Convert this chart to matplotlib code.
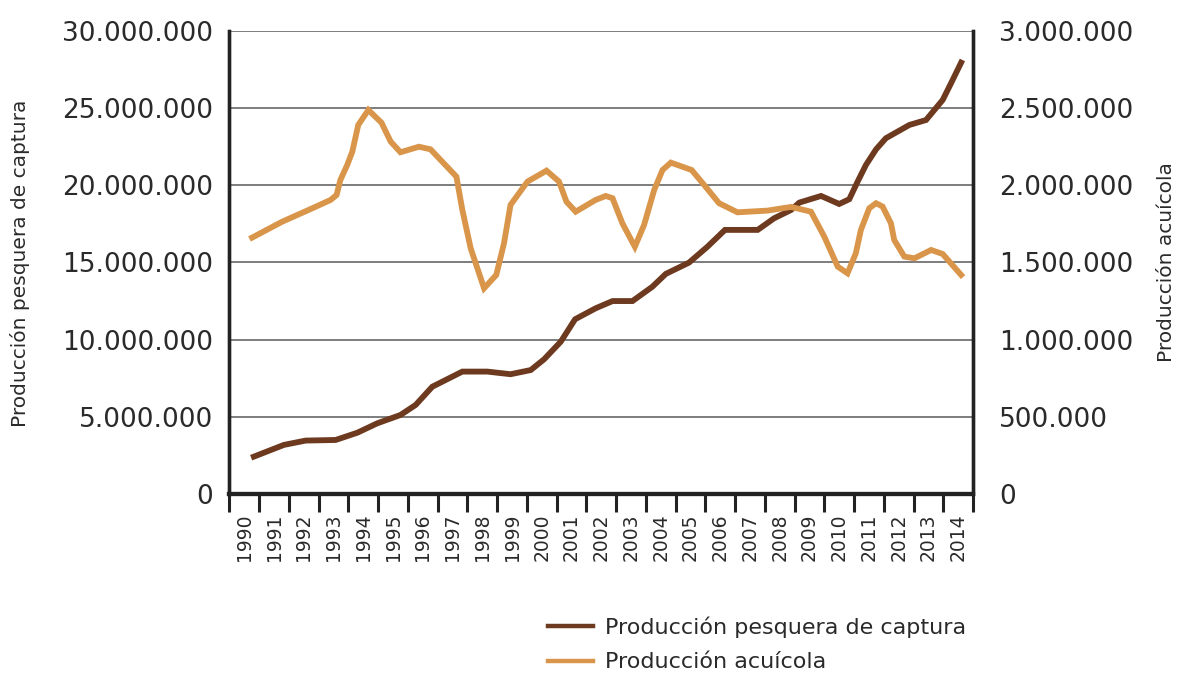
import matplotlib
matplotlib.use("Agg")
import matplotlib.pyplot as plt
from matplotlib.ticker import FuncFormatter, FixedLocator
from matplotlib.lines import Line2D

# ---- data ----
years = list(range(1990, 2015))

captura_x = [1990.32, 1991.33, 1992.06, 1993.07, 1993.80, 1994.47, 1995.25, 1995.76,
             1996.32, 1997.33, 1998.17, 1998.95, 1999.63, 2000.08, 2000.64, 2001.12,
             2001.81, 2002.38, 2003.05, 2003.72, 2004.17, 2004.95, 2005.57, 2006.16,
             2007.26, 2007.81, 2008.38, 2008.66, 2009.39, 2010.00, 2010.34, 2010.62,
             2010.90, 2011.24, 2011.57, 2012.36, 2012.92, 2013.48, 2013.76, 2014.10]
captura_y = [2.42, 3.18, 3.46, 3.50, 3.97, 4.58, 5.12, 5.77,
             6.95, 7.93, 7.93, 7.76, 8.03, 8.73, 9.87, 11.32,
             12.03, 12.50, 12.50, 13.43, 14.26, 14.99, 16.02, 17.11,
             17.11, 17.86, 18.40, 18.88, 19.31, 18.79, 19.10, 20.24,
             21.32, 22.33, 23.05, 23.91, 24.23, 25.53, 26.61, 27.95]
captura_y = [v * 1e6 for v in captura_y]

acuicola_x = [1990.26, 1991.27, 1992.11, 1992.90, 1993.10, 1993.23, 1993.46, 1993.63,
              1993.83, 1994.17, 1994.61, 1994.92, 1995.25, 1995.87, 1996.26, 1997.13,
              1997.33, 1997.61, 1998.06, 1998.47, 1998.73, 1998.95, 1999.52, 2000.16,
              2000.58, 2000.83, 2001.14, 2001.81, 2002.15, 2002.38, 2002.71, 2003.13,
              2003.44, 2003.78, 2004.06, 2004.34, 2005.04, 2005.46, 2005.96, 2006.58,
              2007.59, 2008.38, 2009.05, 2009.50, 2009.95, 2010.28, 2010.56, 2010.73,
              2011.01, 2011.24, 2011.46, 2011.74, 2011.85, 2012.19, 2012.53, 2013.09,
              2013.48, 2014.10]
acuicola_y = [1.661, 1.764, 1.836, 1.905, 1.937, 2.035, 2.132, 2.218,
              2.391, 2.488, 2.406, 2.283, 2.214, 2.250, 2.233, 2.056,
              1.840, 1.592, 1.333, 1.419, 1.624, 1.873, 2.024, 2.095,
              2.024, 1.894, 1.829, 1.905, 1.931, 1.916, 1.754, 1.602,
              1.743, 1.970, 2.099, 2.147, 2.099, 2.002, 1.884, 1.825,
              1.836, 1.860, 1.829, 1.667, 1.473, 1.430, 1.560, 1.711,
              1.851, 1.884, 1.862, 1.754, 1.646, 1.538, 1.527, 1.581,
              1.555, 1.419]
acuicola_y = [v * 1e6 for v in acuicola_y]

left_ticks = [0, 5e6, 10e6, 15e6, 20e6, 25e6, 30e6]
right_ticks = [0, 0.5e6, 1e6, 1.5e6, 2e6, 2.5e6, 3e6]

label_left = "Producción pesquera de captura"
label_right = "Producción acuícola"
legend_labels = ["Producción pesquera de captura", "Producción acuícola"]

c_dark = "#6E3A1F"
c_orange = "#D9954A"
txt = "#2a2a2a"

plt.rcParams['font.family'] = ['DejaVu Sans']

fig = plt.figure(figsize=(11.78, 6.73), dpi=100)
ax = fig.add_axes([0.1948, 0.266, 0.6312, 0.688])
ax2 = ax.twinx()


def fmt(v, pos):
    return f"{int(round(v)):,}".replace(",", ".")


ax.set_xlim(years[0] - 0.5, years[-1] + 0.5)
ax.set_ylim(0, 30e6)
ax2.set_ylim(0, 3e6)

for t in left_ticks[1:]:
    ax.axhline(t, color="#5a5a5a", lw=1.1, zorder=0)

ax.plot(captura_x, captura_y, color=c_dark, lw=4.2, solid_joinstyle="miter", zorder=3)
ax2.plot(acuicola_x, acuicola_y, color=c_orange, lw=4.2, solid_joinstyle="miter", zorder=3)

ax.set_yticks(left_ticks)
ax.yaxis.set_major_formatter(FuncFormatter(fmt))
ax2.set_yticks(right_ticks)
ax2.yaxis.set_major_formatter(FuncFormatter(fmt))
ax.tick_params(axis="y", length=0, pad=12, labelsize=19, labelcolor=txt)
ax2.tick_params(axis="y", length=0, pad=19, labelsize=19, labelcolor=txt)

ax.set_xticks(years)
ax.set_xticklabels([str(y) for y in years], rotation=90, fontsize=13.5, color=txt)
ax.xaxis.set_minor_locator(FixedLocator([y - 0.5 for y in years] + [years[-1] + 0.5]))
ax.tick_params(axis="x", which="major", length=0, pad=14)
ax.tick_params(axis="x", which="minor", length=13, width=2.2, color="#222222", direction="out")

for a in (ax, ax2):
    a.spines["top"].set_visible(False)
    a.spines["left"].set_linewidth(2.4)
    a.spines["right"].set_linewidth(2.4)
    a.spines["bottom"].set_linewidth(3)
    for s in ("left", "right", "bottom"):
        a.spines[s].set_color("#222222")

fig.text(20 / 1178, 1 - 263 / 673, label_left, rotation=90, ha="center", va="center",
         fontsize=14.5, color=txt)
fig.text(1166 / 1178, 1 - 262 / 673, label_right, rotation=90, ha="center", va="center",
         fontsize=14.5, color=txt)

handles = [Line2D([0], [0], color=c_dark, lw=3.2),
           Line2D([0], [0], color=c_orange, lw=3.2)]
fig.legend(handles, legend_labels, loc="upper left", bbox_to_anchor=(0.4655, 0.0846),
           frameon=False, fontsize=16, handlelength=2.0, handletextpad=0.55,
           labelspacing=0.67, borderpad=0, borderaxespad=0, labelcolor=txt)

fig.savefig("out.png", dpi=100)
